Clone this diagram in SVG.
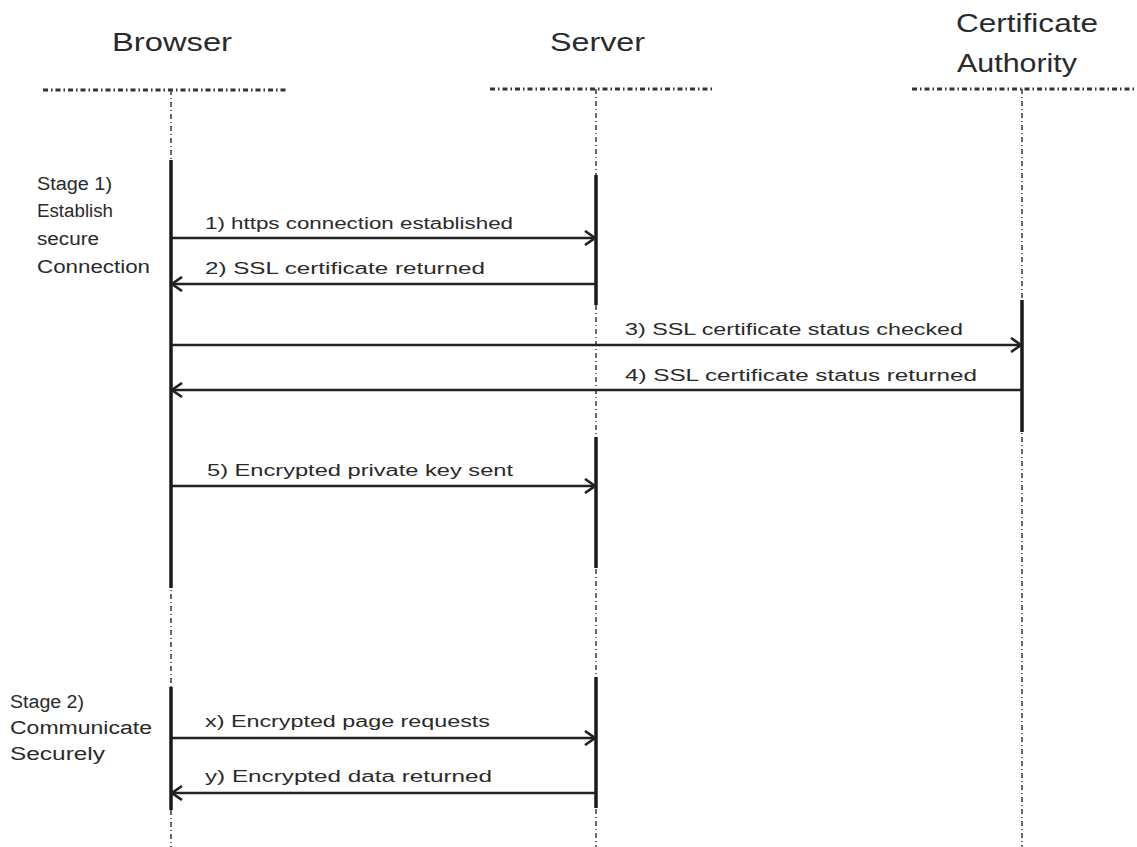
<svg xmlns="http://www.w3.org/2000/svg" width="1137" height="847" viewBox="0 0 1137 847">
<defs>
<style>
.t{font-family:"Liberation Sans",Arial,sans-serif;fill:#2a2a2a}
.h{font-size:25px}
.l{font-size:16px}
.s{font-size:18px}
.hdr{stroke:#333;stroke-width:3;stroke-dasharray:5 3 1.5 3;fill:none}
.life{stroke:#444;stroke-width:1.6;stroke-dasharray:5 3 1 3;fill:none}
.act{stroke:#1a1a1a;stroke-width:3.5;fill:none}
.msg{stroke:#222;stroke-width:2.6;fill:none}
</style>
<marker id="ah" viewBox="0 0 12 16" refX="11" refY="8" markerWidth="12" markerHeight="16" markerUnits="userSpaceOnUse" orient="auto-start-reverse">
<polyline points="1,1 11,8 1,15" fill="none" stroke="#222" stroke-width="2.6"/>
</marker>
</defs>
<rect width="1137" height="847" fill="#fff"/>

<g id="browser">
<text class="t h" x="112" y="51" textLength="120" lengthAdjust="spacingAndGlyphs">Browser</text>
<line class="hdr" x1="43" y1="90" x2="287" y2="90"/>
<line class="life" x1="171" y1="90" x2="171" y2="847"/>
<line class="act" x1="171" y1="160" x2="171" y2="588"/>
<line class="act" x1="171" y1="687" x2="171" y2="810"/>
</g>

<g id="server">
<text class="t h" x="550" y="51" textLength="95" lengthAdjust="spacingAndGlyphs">Server</text>
<line class="hdr" x1="490" y1="89" x2="712" y2="89"/>
<line class="life" x1="596" y1="89" x2="596" y2="847"/>
<line class="act" x1="596" y1="175" x2="596" y2="305"/>
<line class="act" x1="596" y1="437" x2="596" y2="568"/>
<line class="act" x1="596" y1="677" x2="596" y2="808"/>
</g>

<g id="ca">
<text class="t h" x="956" y="32" textLength="142" lengthAdjust="spacingAndGlyphs">Certificate</text>
<text class="t h" x="957" y="72" textLength="120" lengthAdjust="spacingAndGlyphs">Authority</text>
<line class="hdr" x1="912" y1="89" x2="1137" y2="89"/>
<line class="life" x1="1022" y1="89" x2="1022" y2="847"/>
<line class="act" x1="1022" y1="300" x2="1022" y2="432"/>
</g>

<g id="stage1">
<text class="t s" x="37" y="190" textLength="75" lengthAdjust="spacingAndGlyphs">Stage 1)</text>
<text class="t s" x="37" y="217" textLength="76" lengthAdjust="spacingAndGlyphs">Establish</text>
<text class="t s" x="37" y="245" textLength="62" lengthAdjust="spacingAndGlyphs">secure</text>
<text class="t s" x="37" y="273" textLength="113" lengthAdjust="spacingAndGlyphs">Connection</text>
</g>

<g id="stage2">
<text class="t s" x="10" y="708" textLength="74" lengthAdjust="spacingAndGlyphs">Stage 2)</text>
<text class="t s" x="10" y="734" textLength="142" lengthAdjust="spacingAndGlyphs">Communicate</text>
<text class="t s" x="10" y="760" textLength="95" lengthAdjust="spacingAndGlyphs">Securely</text>
</g>

<g id="connectors">
<line class="msg" x1="172" y1="238" x2="595" y2="238" marker-end="url(#ah)"/>
<line class="msg" x1="595" y1="284" x2="172" y2="284" marker-end="url(#ah)"/>
<line class="msg" x1="172" y1="345" x2="1021" y2="345" marker-end="url(#ah)"/>
<line class="msg" x1="1021" y1="390" x2="172" y2="390" marker-end="url(#ah)"/>
<line class="msg" x1="172" y1="486" x2="595" y2="486" marker-end="url(#ah)"/>
<line class="msg" x1="172" y1="738" x2="595" y2="738" marker-end="url(#ah)"/>
<line class="msg" x1="595" y1="793" x2="172" y2="793" marker-end="url(#ah)"/>
<text class="t l" x="205" y="229" textLength="308" lengthAdjust="spacingAndGlyphs">1) https connection established</text>
<text class="t l" x="205" y="274" textLength="280" lengthAdjust="spacingAndGlyphs">2) SSL certificate returned</text>
<text class="t l" x="625" y="335" textLength="338" lengthAdjust="spacingAndGlyphs">3) SSL certificate status checked</text>
<text class="t l" x="625" y="381" textLength="352" lengthAdjust="spacingAndGlyphs">4) SSL certificate status returned</text>
<text class="t l" x="207" y="476" textLength="306" lengthAdjust="spacingAndGlyphs">5) Encrypted private key sent</text>
<text class="t l" x="205" y="727" textLength="285" lengthAdjust="spacingAndGlyphs">x) Encrypted page requests</text>
<text class="t l" x="205" y="782" textLength="287" lengthAdjust="spacingAndGlyphs">y) Encrypted data returned</text>
</g>
</svg>
